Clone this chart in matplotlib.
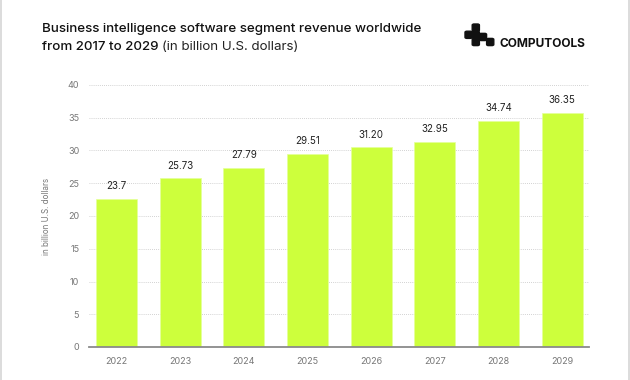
import matplotlib
matplotlib.use('Agg')
import matplotlib.pyplot as plt
from matplotlib.patches import FancyBboxPatch
from matplotlib.lines import Line2D

plt.rcParams['font.family'] = ['Inter', 'DejaVu Sans']

years = ["2022", "2023", "2024", "2025", "2026", "2027", "2028", "2029"]
# bar heights as drawn in the picture (they do not quite match the printed labels)
heights = [22.6, 25.75, 27.4, 29.5, 30.5, 31.3, 34.5, 35.8]
labels = ["23.7", "25.73", "27.79", "29.51", "31.20", "32.95", "34.74", "36.35"]
yticks = [0, 5, 10, 15, 20, 25, 30, 35, 40]

fig = plt.figure(figsize=(6.3, 3.8), dpi=100)
fig.patch.set_facecolor('white')

# card edges
fig.add_artist(Line2D([0.5 / 630, 0.5 / 630], [0, 1], color='#d6d6d6', lw=1.2))
fig.add_artist(Line2D([629 / 630, 629 / 630], [0, 1], color='#d6d6d6', lw=1.2))

ax = fig.add_axes([89 / 630, 1 - 347 / 380, 500 / 630, 262 / 380])
x = range(len(years))
bars = ax.bar(x, heights, width=0.645, color='#cdff3c', edgecolor='#e4ff9a', linewidth=0.5, zorder=3)

for b, lab in zip(bars, labels):
    ax.annotate(lab, (b.get_x() + b.get_width() / 2, b.get_height()),
                xytext=(0, 5.5), textcoords='offset points',
                ha='center', va='bottom', fontsize=7, color='#222222')

ax.set_xlim(-0.432, 7.42)
ax.set_ylim(0, 40)
ax.set_yticks(yticks)
ax.set_xticks(list(x))
ax.set_xticklabels(years)
ax.tick_params(axis='both', length=0, labelsize=6.5, colors='#777777')
ax.tick_params(axis='y', pad=7)
ax.tick_params(axis='x', pad=7)
ax.grid(axis='y', color='#c4c4c4', lw=0.6, linestyle=(0, (1, 1.5)), zorder=0)
for s in ['top', 'right', 'left']:
    ax.spines[s].set_visible(False)
ax.spines['bottom'].set_color('#8a8a8a')
ax.spines['bottom'].set_linewidth(1.3)
ax.spines['bottom'].set_zorder(4)
ax.set_ylabel("in billion U.S. dollars", fontsize=5.8, color='#777777', labelpad=12)

# title
fig.text(42 / 630, 1 - 29 / 380, "Business intelligence software segment revenue worldwide",
         fontsize=9.6, fontweight='medium', color='#111111', va='center', ha='left')
t2 = fig.text(42 / 630, 1 - 47 / 380, "from 2017 to 2029", fontsize=9.6,
              fontweight='medium', color='#111111', va='center', ha='left')
fig.canvas.draw()
bb = t2.get_window_extent()
fig.text((bb.x1 + 3) / 630, 1 - 47 / 380, "(in billion U.S. dollars)", fontsize=9.6,
         fontweight='normal', color='#222222', va='center', ha='left')

# logo
cell = 7.2
cells = [(1, 0), (0, 1), (1, 1), (2, 1.3), (1, 2), (3, 2)]
for cx, cy in cells:
    x0 = 465 + cx * cell
    y0 = 24 + cy * cell
    fig.add_artist(FancyBboxPatch((x0 / 630, 1 - (y0 + cell) / 380), cell / 630, cell / 380,
                                  boxstyle='round,pad=0,rounding_size=0.003',
                                  transform=fig.transFigure, color='#111111'))
fig.text(500 / 630, 1 - 44 / 380, "COMPUTOOLS", fontsize=8.6, fontweight='bold',
         color='#111111', va='center', ha='left')

fig.savefig('out.png', dpi=100)
